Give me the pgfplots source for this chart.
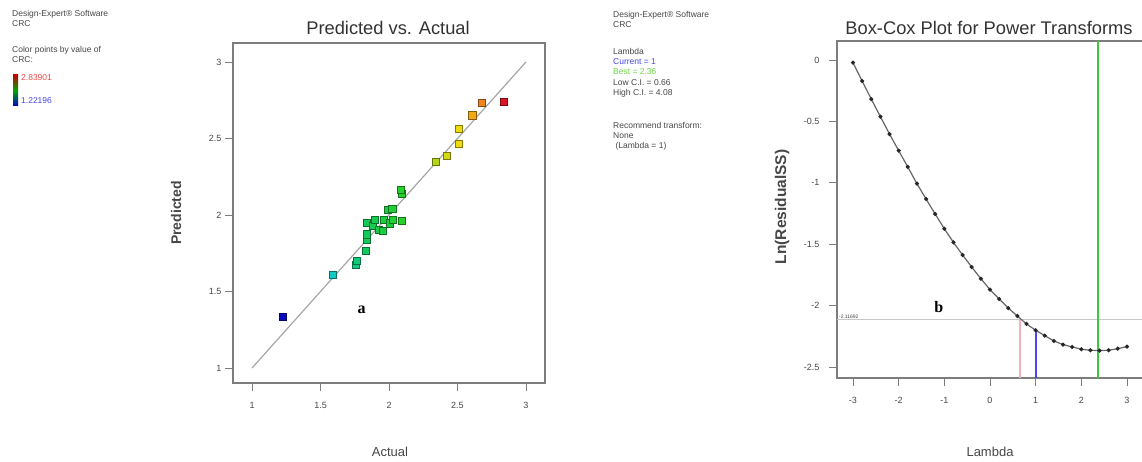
\documentclass[border=0pt]{standalone}
\usepackage{pgfplots}
\pgfplotsset{compat=1.18}
\usepackage{fontspec}
\setmainfont{Liberation Sans}
\newfontfamily\serifb{Liberation Serif}

\definecolor{framegray}{RGB}{125,125,125}
\definecolor{txtgray}{RGB}{70,70,70}
\definecolor{curblue}{RGB}{70,70,235}
\definecolor{bestgreen}{RGB}{110,215,70}
\definecolor{cired}{RGB}{235,70,70}
\definecolor{cipink}{RGB}{245,175,190}
\definecolor{lamblue}{RGB}{70,70,255}
\definecolor{lamgreen}{RGB}{60,200,60}

\pgfplotsset{
  dxaxis/.style={
    scale only axis, anchor=south west, clip=false,
    tick align=outside, xtick pos=bottom, ytick pos=left,
    major tick length=8pt,
    axis line style={framegray, line width=1.4pt},
    tick style={framegray, line width=0.8pt},
    ticklabel style={font=\fontsize{9}{10}\selectfont, text=txtgray},
    xticklabel style={yshift=-8pt},
    /pgf/number format/assume math mode=true,
  }
}

\newcommand{\smalltxt}{\fontsize{8.5}{10}\selectfont}

\begin{document}
\begin{tikzpicture}[x=1pt,y=1pt]
\useasboundingbox (0,0) rectangle (1142,461);

% left legend text
\begin{scope}[every node/.style={anchor=base west, inner sep=0pt, font=\smalltxt, text=txtgray}]
\node at (12,444) {Design-Expert\textregistered\ Software};
\node at (12,434) {CRC};
\node at (12,408) {Color points by value of};
\node at (12,398) {CRC:};
\node[text=cired] at (21,380) {2.83901};
\node[text=curblue] at (21,357) {1.22196};
\end{scope}
\shade[top color=red!75!black, bottom color=blue!80!black, middle color=green!65!black] (13,355) rectangle (18,386);

% right legend text
\begin{scope}[every node/.style={anchor=base west, inner sep=0pt, font=\smalltxt, text=txtgray}]
\node at (613,443) {Design-Expert\textregistered\ Software};
\node at (613,433) {CRC};
\node at (613,406) {Lambda};
\node[text=curblue] at (613,396) {Current = 1};
\node[text=bestgreen] at (613,386) {Best = 2.36};
\node at (613,375) {Low C.I. = 0.66};
\node at (613,365) {High C.I. = 4.08};
\node at (613,332) {Recommend transform:};
\node at (613,322) {None};
\node at (613,312) {\ (Lambda = 1)};
\end{scope}

% titles and axis labels
\node[anchor=base, font=\fontsize{18.3}{20}\selectfont, text=black!80] at (388,426) {Predicted vs. Actual};
\node[anchor=base, font=\fontsize{18.3}{20}\selectfont, text=black!80] at (989,426) {Box-Cox Plot for Power Transforms};
\node[rotate=90, font=\bfseries\fontsize{14}{15}\selectfont, text=txtgray] at (176,248) {Predicted};
\node[font=\fontsize{13}{14}\selectfont, text=txtgray] at (390,9) {Actual};
\node[rotate=90, font=\bfseries\fontsize{15.5}{16}\selectfont, text=txtgray] at (782,254) {Ln(ResidualSS)};
\node[font=\fontsize{13}{14}\selectfont, text=txtgray] at (990,9) {Lambda};

% Predicted vs. Actual
\begin{axis}[dxaxis, at={(233pt,78pt)}, width=312pt, height=340pt,
  xmin=0.861, xmax=3.139, ymin=0.902, ymax=3.124,
  xtick={1,1.5,2,2.5,3}, ytick={1,1.5,2,2.5,3},
  colormap={de}{rgb255(0cm)=(10,10,190) rgb255(22cm)=(20,200,200) rgb255(38cm)=(20,200,90)
    rgb255(55cm)=(40,210,40) rgb255(70cm)=(190,215,20) rgb255(80cm)=(240,220,10)
    rgb255(90cm)=(240,130,30) rgb255(100cm)=(220,20,40)},
  point meta min=1.22196, point meta max=2.83901]
\addplot[color=gray!70, line width=1.2pt] coordinates {(1,1) (3,3)};
\addplot[scatter, only marks, mark=square*, mark size=3.6pt, scatter src=x,
  scatter/use mapped color={draw=mapped color!55!black, fill=mapped color}]
  coordinates {
  (1.221,1.335) (1.591,1.608) (1.754,1.673) (1.764,1.701) (1.832,1.765)
  (1.837,1.837) (1.837,1.874) (1.837,1.948) (1.881,1.928) (1.898,1.967)
  (1.922,1.902) (1.956,1.895) (1.964,1.967) (2.007,1.946) (2.029,1.967)
  (2.095,1.965) (1.993,2.035) (2.024,2.039) (2.095,2.137) (2.088,2.163)
  (2.338,2.349) (2.421,2.386) (2.506,2.468) (2.506,2.562) (2.608,2.652)
  (2.674,2.734) (2.839,2.740)
  };
\node[font=\serifb\bfseries\fontsize{16}{16}\selectfont] at (axis cs:1.80,1.38) {a};
\end{axis}

% Box-Cox plot
\begin{axis}[dxaxis, at={(837pt,83pt)}, width=310.5pt, height=337pt,
  xmin=-3.35, xmax=3.45, ymin=-2.59, ymax=0.155,
  yticklabel style={xshift=-6pt},
  xtick={-3,-2,-1,0,1,2,3}, ytick={-2.5,-2,-1.5,-1,-0.5,0}]
\addplot[draw=black!22, line width=1pt] coordinates {(-3.35,-2.11692) (3.45,-2.11692)};
\addplot[draw=cipink, line width=1.4pt] coordinates {(0.66,-2.59) (0.66,-2.11692)};
\addplot[draw=lamblue, line width=2pt] coordinates {(1,-2.59) (1,-2.201)};
\addplot[draw=lamgreen, line width=1.8pt] coordinates {(2.36,-2.59) (2.36,0.155)};
\addplot[draw=black!60, line width=1.2pt, mark=*, mark size=1.4pt, mark options={fill=black!85, draw=black!85}]
  coordinates {
  (-3.0,-0.022) (-2.8,-0.171) (-2.6,-0.318) (-2.4,-0.461) (-2.2,-0.603)
  (-2.0,-0.738) (-1.8,-0.871) (-1.6,-1.007) (-1.4,-1.132) (-1.2,-1.254)
  (-1.0,-1.374) (-0.8,-1.485) (-0.6,-1.588) (-0.4,-1.686) (-0.2,-1.781)
  (0.0,-1.870) (0.2,-1.946) (0.4,-2.020) (0.6,-2.085) (0.8,-2.150)
  (1.0,-2.201) (1.2,-2.245) (1.4,-2.288) (1.6,-2.318) (1.8,-2.337)
  (2.0,-2.356) (2.2,-2.364) (2.4,-2.367) (2.6,-2.364) (2.8,-2.351)
  (3.0,-2.334)
  };
\node[anchor=south west, inner sep=1pt, font=\fontsize{5}{5}\selectfont, text=txtgray] at (axis cs:-3.33,-2.11692) {-2.11692};
\node[font=\serifb\bfseries\fontsize{16}{16}\selectfont] at (axis cs:-1.12,-2.01) {b};
\end{axis}
\end{tikzpicture}
\end{document}
